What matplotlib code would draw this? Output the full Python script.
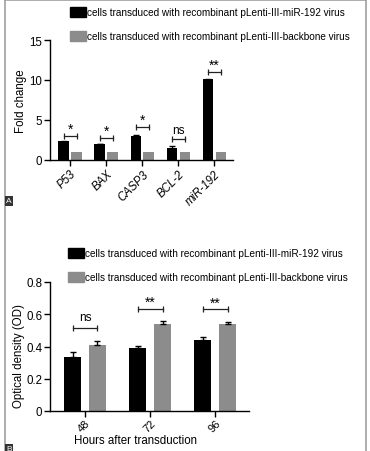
import matplotlib
matplotlib.use('Agg')
import matplotlib.pyplot as plt
from matplotlib.lines import Line2D

plt.rcParams['font.family'] = ['Liberation Sans', 'DejaVu Sans']

W, H = 370, 452

# ---- data, panel A
genes = ['P53', 'BAX', 'CASP3', 'BCL-2', 'miR-192']
fold_mir = [2.35, 2.0, 3.05, 1.5, 10.1]
fold_mir_err = [0.05, 0.05, 0.05, 0.2, 0.05]
fold_bb = [1.0, 1.0, 1.0, 1.0, 1.0]
sig_a = ['*', '*', '*', 'ns', '**']
sig_a_y = [3.0, 2.8, 4.1, 2.6, 11.0]

# ---- data, panel B
hours = ['48', '72', '96']
od_mir = [0.335, 0.388, 0.44]
od_mir_err = [0.028, 0.018, 0.018]
od_bb = [0.412, 0.542, 0.537]
od_bb_err = [0.025, 0.016, 0.015]
sig_b = ['ns', '**', '**']
sig_b_y = [0.517, 0.633, 0.630]

lab_mir = 'cells transduced with recombinant pLenti-III-miR-192 virus'
lab_bb = 'cells transduced with recombinant pLenti-III-backbone virus'
BLACK = '#000000'
GREY = '#8c8c8c'


def px_axes(fig, left, right, top, bottom):
    return fig.add_axes([left / W, 1 - bottom / H, (right - left) / W, (bottom - top) / H])


def style(ax):
    for s in ['top', 'right']:
        ax.spines[s].set_visible(False)
    for s in ['left', 'bottom']:
        ax.spines[s].set_linewidth(1.0)
    ax.tick_params(direction='out', length=4, width=1, labelsize=8.3, pad=1.5)


def bracket(ax, x1, x2, y, txt, gap):
    ax.plot([x1, x2], [y, y], color='#222222', lw=0.9, marker='|', markersize=5,
            markeredgewidth=0.9)
    if txt == 'ns':
        ax.text((x1 + x2) / 2, y + gap, txt, ha='center', va='bottom', fontsize=8.5)
    else:
        ax.text((x1 + x2) / 2, y + gap, txt, ha='center', va='bottom', fontsize=10)


def legend(ax, fig, x, y):
    handles = [plt.Rectangle((0, 0), 1, 1, color=BLACK), plt.Rectangle((0, 0), 1, 1, color=GREY)]
    ax.legend(handles, [lab_mir, lab_bb], loc='upper left', frameon=False,
              bbox_to_anchor=(x / W, 1 - y / H), bbox_transform=fig.transFigure,
              fontsize=7.2, handlelength=1.55, handleheight=1.1, handletextpad=0.12,
              labelspacing=1.4, borderpad=0, borderaxespad=0)


fig = plt.figure(figsize=(W / 100, H / 100), dpi=100)

# ---------------- panel A
ax = px_axes(fig, 50, 233, 41, 161)
xs = list(range(len(genes)))
off, bw = 0.18, 0.29
ax.bar([x - off for x in xs], fold_mir, bw, color=BLACK, yerr=fold_mir_err,
       error_kw=dict(ecolor=BLACK, capsize=2, elinewidth=1, capthick=1))
ax.bar([x + off for x in xs], fold_bb, bw, color=GREY)
for x, t, y in zip(xs, sig_a, sig_a_y):
    bracket(ax, x - off, x + off, y, t, 0.0 if t != 'ns' else 0.35)
ax.set_xlim(-0.56, 4.52)
ax.set_ylim(0, 15)
ax.set_yticks([0, 5, 10, 15])
ax.set_xticks(xs)
ax.set_xticklabels(genes, rotation=45, ha='right', rotation_mode='anchor',
                   style='italic')
ax.set_ylabel('Fold change', fontsize=8.3, labelpad=2)
style(ax)
legend(ax, fig, 70, 8)

# ---------------- panel B
bx = px_axes(fig, 50, 249, 283, 412)
xs = list(range(len(hours)))
off, bw = 0.19, 0.26
ek = dict(ecolor=BLACK, capsize=2.5, elinewidth=1, capthick=1)
bx.bar([x - off for x in xs], od_mir, bw, color=BLACK, yerr=[[0] * 3, od_mir_err], error_kw=ek)
bx.bar([x + off for x in xs], od_bb, bw, color=GREY, yerr=[[0] * 3, od_bb_err], error_kw=ek)
for x, t, y in zip(xs, sig_b, sig_b_y):
    bracket(bx, x - off, x + off, y, t, 0.0 if t != 'ns' else 0.03)
bx.set_xlim(-0.54, 2.52)
bx.set_ylim(0, 0.8)
bx.set_yticks([0, 0.2, 0.4, 0.6, 0.8])
bx.set_yticklabels(['0', '0.2', '0.4', '0.6', '0.8'])
bx.set_xticks(xs)
bx.set_xticklabels(hours, rotation=45, ha='right', rotation_mode='anchor')
bx.set_xlabel('Hours after transduction', fontsize=8.3)
bx.set_ylabel('Optical density (OD)', fontsize=8.3)
style(bx)
bx.tick_params(axis='x', pad=0.5, labelsize=8)
bx.xaxis.set_label_coords((135 - 50) / 199, -0.18)
bx.yaxis.set_label_coords(-0.125, 0.43)
legend(bx, fig, 68, 249)

# ---------------- panel labels and frame
for lab, y in [('A', 202), ('B', 450)]:
    fig.text(9 / W, 1 - y / H, lab, color='white', fontsize=6, ha='center', va='center',
             bbox=dict(boxstyle='square,pad=0.15', fc='#333333', ec='none'))
for xs_, ys_ in [([4.5, 4.5], [0, H]), ([366, 366], [0, H]), ([4.5, 366], [1, 1])]:
    fig.add_artist(Line2D([v / W for v in xs_], [1 - v / H for v in ys_],
                          color='#a0a0a0', lw=1.2, transform=fig.transFigure))

fig.savefig('out.png', dpi=100)
